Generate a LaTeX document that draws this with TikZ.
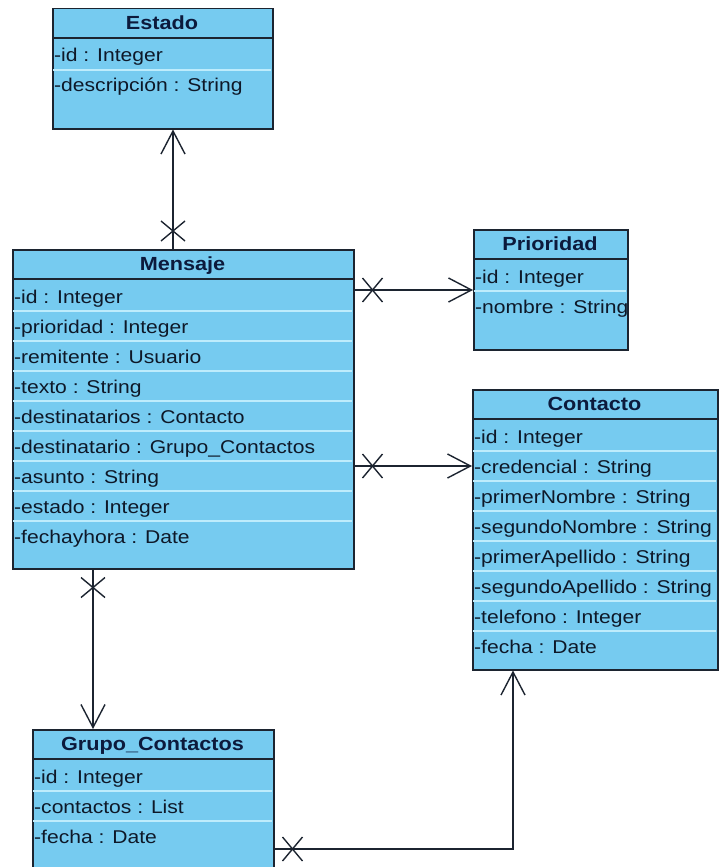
\documentclass[tikz,border=0pt]{standalone}
\usepackage{fontspec}
\setmainfont{Liberation Sans}
\newfontfamily\umlfont[FakeStretch=1.14]{Liberation Sans}
\usetikzlibrary{arrows.meta,decorations.markings,calc}

\definecolor{classfill}{RGB}{118,203,240}
\definecolor{rowline}{RGB}{190,236,252}
\definecolor{edgeclr}{RGB}{28,36,48}
\definecolor{titletext}{RGB}{12,26,60}
\definecolor{attrtext}{RGB}{14,24,40}

\tikzset{
  classbox/.style={draw=edgeclr, fill=classfill, line width=1.5pt, inner sep=0pt, rectangle},
  classtitle/.style={font=\umlfont\bfseries\fontsize{19}{21}\selectfont, text=titletext, inner sep=0pt, anchor=base},
  attr/.style={font=\umlfont\fontsize{18.5}{20}\selectfont, text=attrtext, anchor=base west, inner sep=0pt},
  rowsep/.style={draw=rowline, line width=1.2pt},
  hdrline/.style={draw=edgeclr, line width=1.5pt},
  assoc/.style={draw=edgeclr, line width=1.4pt,
    -{Straight Barb[length=23pt,width=24pt,line width=1.4pt]},
    postaction={decorate, decoration={markings,
      mark=at position 18pt with {\draw[edgeclr, line width=1.4pt, -] (-10pt,-12pt)--(10pt,12pt) (-10pt,12pt)--(10pt,-12pt);}}}},
}

% #1 name, #2 left, #3 top, #4 right, #5 bottom, #6 title, #7 attributes
\newcommand\umlclass[7]{%
  \node[classbox, anchor=north west, minimum width={(#4-#2)*1pt}, minimum height={(#5-#3)*1pt}] (#1) at (#2,#3) {};
  \draw[hdrline] (#2,#3+30) -- (#4,#3+30);
  \node[classtitle] (#1-title) at ({(#2+#4)/2},#3+21.5) {#6};
  \foreach \t [count=\i] in {#7} {
    \ifnum\i>1
      \draw[rowsep] (#2+1,#3+32+30*\i-30) -- (#4-1,#3+32+30*\i-30);
    \fi
    \node[attr] (#1-\i) at (#2+2,#3+54+30*\i-30) {\t};
  }%
}

\begin{document}
\begin{tikzpicture}[x=1pt,y=-1pt]
  \clip (0,0) rectangle (720,867);
  \fill[white] (0,0) rectangle (720,867);

  \umlclass{estado}{52}{8}{272}{128}{Estado}{-id : Integer,-descripción : String}
  \umlclass{mensaje}{12}{249}{353}{568}{Mensaje}{-id : Integer,-prioridad : Integer,-remitente : Usuario,-texto : String,-destinatarios : Contacto,-destinatario : Grupo\_Contactos,-asunto : String,-estado : Integer,-fechayhora : Date}
  \umlclass{prioridad}{473}{229}{627}{349}{Prioridad}{-id : Integer,-nombre : String}
  \umlclass{contacto}{472}{389}{717}{669}{Contacto}{-id : Integer,-credencial : String,-primerNombre : String,-segundoNombre : String,-primerApellido : String,-segundoApellido : String,-telefono : Integer,-fecha : Date}
  \umlclass{grupo}{32}{729}{273}{880}{Grupo\_Contactos}{-id : Integer,-contactos : List,-fecha : Date}

  % routing columns and rows of the associations
  \coordinate (xestado) at (173,0);
  \coordinate (ygrupo) at (0,849);
  \coordinate (xgrupo) at (93,0);
  \coordinate (yprio) at (0,290);
  \coordinate (ycont) at (0,466);
  \coordinate (bend) at (513,849);

  \draw[assoc] (mensaje.north -| xestado) -- (estado.south -| xestado);
  \draw[assoc] (mensaje.east |- yprio) -- (prioridad.west |- yprio);
  \draw[assoc] (mensaje.east |- ycont) -- (contacto.west |- ycont);
  \draw[assoc] (mensaje.south -| xgrupo) -- (grupo.north -| xgrupo);
  \draw[assoc] (grupo.east |- ygrupo) -- (bend) -- (contacto.south -| bend);
\end{tikzpicture}
\end{document}
